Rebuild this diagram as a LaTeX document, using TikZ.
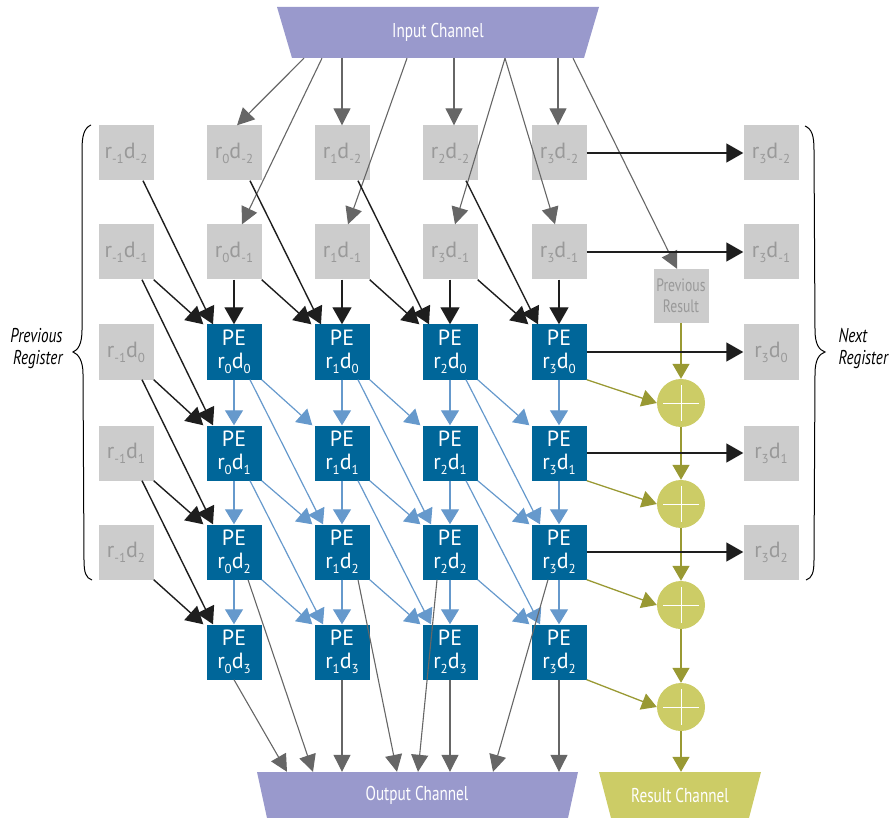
\documentclass[tikz,border=0pt]{standalone}
\usepackage{fontspec}
\setmainfont{PT Sans}
\newfontfamily\condfont[FakeStretch=0.76]{PT Sans}
\usetikzlibrary{arrows.meta,calc}
\definecolor{chan}{HTML}{9999CC}
\definecolor{gbox}{HTML}{CCCCCC}
\definecolor{gtext}{HTML}{999999}
\definecolor{pecol}{HTML}{006699}
\definecolor{blu}{HTML}{6699CC}
\definecolor{oliv}{HTML}{999933}
\definecolor{yel}{HTML}{CCCC66}
\definecolor{garr}{HTML}{666666}
\definecolor{barr}{HTML}{1E1E1E}
\newcommand{\rdlab}[2]{r\raisebox{-5pt}{\fontsize{13}{13}\selectfont #1}d\raisebox{-5pt}{\fontsize{13}{13}\selectfont #2}}
\begin{document}
\begin{tikzpicture}[x=1pt,y=-1pt,
  regbox/.style={fill=gbox, minimum size=55pt, inner sep=0pt, text=gtext, font=\fontsize{22}{24}\selectfont},
  pebox/.style={fill=pecol, minimum size=55pt, inner sep=0pt, text=white, align=center, font=\fontsize{22}{23}\selectfont},
  adder/.style={circle, fill=yel, minimum size=48pt, inner sep=0pt},
  chanbox/.style={minimum height=46pt, inner sep=0pt},
  chantext/.style={text=white, font=\condfont\fontsize{20}{20}\selectfont},
  garrow/.style={draw=garr, line width=1.1pt, -{Triangle[length=17pt,width=17pt]}},
  barrow/.style={draw=barr, line width=1.4pt, -{Triangle[length=17pt,width=19pt]}},
  blarrow/.style={draw=blu, line width=1.2pt, -{Triangle[length=15pt,width=18pt]}},
  oarrow/.style={draw=oliv, line width=1.3pt, -{Triangle[length=15pt,width=17pt]}},
  crossline/.style={draw=white, line width=1pt},
  bracel/.style={draw=black, line width=1pt},
  reglab/.style={font=\condfont\itshape\fontsize{20}{22}\selectfont},
]
\useasboundingbox (0,0) rectangle (889,818);

% channels
\fill[chan] (277,7) -- (599,7) -- (584,58) -- (292,58) -- cycle;
\node[chanbox, minimum width=322pt, minimum height=51pt, chantext] (in) at (438,32.5) {Input Channel};
\fill[chan] (257,772) -- (578,772) -- (568,818) -- (267,818) -- cycle;
\node[chanbox, minimum width=321pt, chantext] (out) at (417,795) {Output Channel};
\fill[yel] (599,772) -- (761,772) -- (749,818) -- (611,818) -- cycle;
\node[chanbox, minimum width=162pt, chantext] (res) at (680,795) {Result Channel};

% previous register column
\node[regbox] (b-m1-m2) at (126,153) {\rdlab{-1}{-2}};
\node[regbox] (b-m1-m1) at (126,252) {\rdlab{-1}{-1}};
\node[regbox] (b-m1-0) at (126,352) {\rdlab{-1}{0}};
\node[regbox] (b-m1-1) at (126,453) {\rdlab{-1}{1}};
\node[regbox] (b-m1-2) at (126,552) {\rdlab{-1}{2}};
% top rows
\node[regbox] (b-0-m2) at (234,153) {\rdlab{0}{-2}};
\node[regbox] (b-1-m2) at (342,153) {\rdlab{1}{-2}};
\node[regbox] (b-2-m2) at (450,153) {\rdlab{2}{-2}};
\node[regbox] (b-3-m2) at (559,153) {\rdlab{3}{-2}};
\node[regbox] (b-0-m1) at (234,252) {\rdlab{0}{-1}};
\node[regbox] (b-1-m1) at (342,252) {\rdlab{1}{-1}};
\node[regbox] (b-2-m1) at (450,252) {\rdlab{3}{-1}};
\node[regbox] (b-3-m1) at (559,252) {\rdlab{3}{-1}};
% next register column
\node[regbox] (n-m2) at (771,153) {\rdlab{3}{-2}};
\node[regbox] (n-m1) at (771,252) {\rdlab{3}{-1}};
\node[regbox] (n-0) at (771,352) {\rdlab{3}{0}};
\node[regbox] (n-1) at (771,453) {\rdlab{3}{1}};
\node[regbox] (n-2) at (771,552) {\rdlab{3}{2}};
% previous result
\node[regbox, minimum height=54pt, align=center, font=\condfont\fontsize{18}{21}\selectfont, text=gtext] (prevres) at (681,296) {Previous\\Result};

% PE grid
\foreach \i/\x in {0/234,1/342,2/450,3/559}{
  \foreach \j/\y in {0/352,1/453,2/552,3/652}{
    \pgfmathtruncatemacro\lab{(\i==3 && \j==3) ? 2 : \j}
    \node[pebox] (pe-\i-\j) at (\x,\y) {PE\\\rdlab{\i}{\lab}};
  }
}

% adders
\foreach \k/\y in {0/403,1/504,2/605,3/707}{
  \node[adder] (a\k) at (681,\y) {};
  \draw[crossline] ($(a\k.center)+(-18,0)$) -- ($(a\k.center)+(18,0)$);
  \draw[crossline] ($(a\k.center)+(0,-18)$) -- ($(a\k.center)+(0,18)$);
}

% input arrows
\draw[garrow] ($(in.south)+(-134,0)$) -- ($(b-0-m2.north)+(3,0)$);
\draw[garrow] ($(in.south)+(-116,0)$) -- ($(b-0-m1.north)+(8,0)$);
\draw[garrow] ($(in.south)+(-96,0)$) -- (b-1-m2.north);
\draw[garrow] ($(in.south)+(-31,0)$) -- ($(b-1-m1.north)+(6,0)$);
\draw[garrow] ($(in.south)+(16,0)$) -- ($(b-2-m2.north)+(4,0)$);
\draw[garrow] ($(in.south)+(67,0)$) -- ($(b-2-m1.north)+(5,0)$);
\draw[garrow] ($(in.south)+(67,0)$) -- ($(b-3-m1.north)+(-4,0)$);
\draw[garrow] ($(in.south)+(120,0)$) -- ($(b-3-m2.north)+(-1,0)$);
\draw[garrow] ($(in.south)+(135,0)$) -- ($(prevres.north)+(-4,0)$);

% blue PE arrows
\foreach \i in {0,1,2,3}{
  \foreach \j in {0,1,2}{
    \pgfmathtruncatemacro\jn{\j+1}
    \draw[blarrow] (pe-\i-\j.south) -- (pe-\i-\jn.north);
  }
}
\foreach \i in {0,1,2}{
  \pgfmathtruncatemacro\inx{\i+1}
  \foreach \j in {0,1,2}{
    \pgfmathtruncatemacro\jn{\j+1}
    \draw[blarrow] (pe-\i-\j.south east) -- ($(pe-\inx-\jn.north west)+(-2,0)$);
  }
  \foreach \j in {0,1}{
    \pgfmathtruncatemacro\jnn{\j+2}
    \draw[blarrow] ($(pe-\i-\j.south)+(16,0)$) -- ($(pe-\inx-\jnn.north)+(-19,0)$);
  }
}

% olive arrows
\draw[oarrow] (prevres.south) -- (a0.north);
\draw[oarrow] (a0.south) -- (a1.north);
\draw[oarrow] (a1.south) -- (a2.north);
\draw[oarrow] (a2.south) -- (a3.north);
\draw[oarrow] (a3.south) -- (res.north -| a3.south);
\foreach \k in {0,1,2,3}{
  \draw[oarrow] (pe-3-\k.south east) -- (a\k.west);
}

% black arrows from previous register
\draw[barrow] ($(b-m1-m2.south)+(17,0)$) -- ($(pe-0-0.north)+(-21,0)$);
\draw[barrow] (b-m1-m1.south east) -- ($(pe-0-0.north west)+(-3,0)$);
\draw[barrow] ($(b-m1-m1.south)+(16,0)$) -- ($(pe-0-1.north)+(-21,0)$);
\draw[barrow] (b-m1-0.south east) -- ($(pe-0-1.north west)+(-3,0)$);
\draw[barrow] ($(b-m1-0.south)+(16,0)$) -- ($(pe-0-2.north)+(-21,0)$);
\draw[barrow] (b-m1-1.south east) -- ($(pe-0-2.north west)+(-3,0)$);
\draw[barrow] ($(b-m1-1.south)+(16,0)$) -- ($(pe-0-3.north)+(-21,0)$);
\draw[barrow] (b-m1-2.south east) -- ($(pe-0-3.north west)+(-3,0)$);
% black arrows from top rows
\draw[barrow] ($(b-0-m2.south)+(16,0)$) -- ($(pe-1-0.north)+(-21,0)$);
\draw[barrow] ($(b-1-m2.south)+(16,0)$) -- ($(pe-2-0.north)+(-21,0)$);
\draw[barrow] ($(b-2-m2.south)+(16,0)$) -- ($(pe-3-0.north)+(-21,0)$);
\draw[barrow] (b-0-m1.south) -- (pe-0-0.north);
\draw[barrow] (b-1-m1.south) -- (pe-1-0.north);
\draw[barrow] (b-2-m1.south) -- (pe-2-0.north);
\draw[barrow] (b-3-m1.south) -- (pe-3-0.north);
\draw[barrow] (b-0-m1.south east) -- ($(pe-1-0.north west)+(-3,0)$);
\draw[barrow] (b-1-m1.south east) -- ($(pe-2-0.north west)+(-3,0)$);
\draw[barrow] (b-2-m1.south east) -- ($(pe-3-0.north west)+(-3,0)$);
% black arrows to next register
\draw[barrow] (b-3-m2.east) -- (n-m2.west);
\draw[barrow] (b-3-m1.east) -- (n-m1.west);
\draw[barrow] (pe-3-0.east) -- (n-0.west);
\draw[barrow] (pe-3-1.east) -- (n-1.west);
\draw[barrow] (pe-3-2.east) -- (n-2.west);

% output arrows
\draw[garrow] (pe-0-3.south) -- ($(out.north)+(-130,0)$);
\draw[garrow] ($(pe-0-2.south)+(14,0)$) -- ($(out.north)+(-104,0)$);
\draw[garrow] (pe-1-3.south) -- ($(out.north)+(-75,0)$);
\draw[garrow] ($(pe-1-2.south)+(16,0)$) -- ($(out.north)+(-20,0)$);
\draw[garrow] ($(pe-2-2.south)+(-13,0)$) -- ($(out.north)+(1,0)$);
\draw[garrow] (pe-2-3.south) -- ($(out.north)+(33,0)$);
\draw[garrow] ($(pe-3-2.south)+(-11,0)$) -- ($(out.north)+(76,0)$);
\draw[garrow] (pe-3-3.south) -- ($(out.north)+(142,0)$);

% braces and labels
\draw[bracel] (91,125) .. controls (84,128) and (82,136) .. (82,150) -- (82,330) .. controls (82,344) and (78,350) .. (73,352) .. controls (78,354) and (83,360) .. (83,374) -- (84,560) .. controls (84,573) and (86,578) .. (92,580);
\draw[bracel] (805,126) .. controls (812,129) and (814,136) .. (814,150) -- (815,330) .. controls (815,344) and (819,350) .. (825,352) .. controls (819,354) and (815,360) .. (815,374) -- (814,560) .. controls (814,573) and (812,578) .. (806,580);
\node[reglab, align=right, anchor=east] (prevlab) at (66,349) {Previous\\Register};
\node[reglab, align=left, anchor=west] (nextlab) at (835,349) {Next\\Register};
\end{tikzpicture}
\end{document}
